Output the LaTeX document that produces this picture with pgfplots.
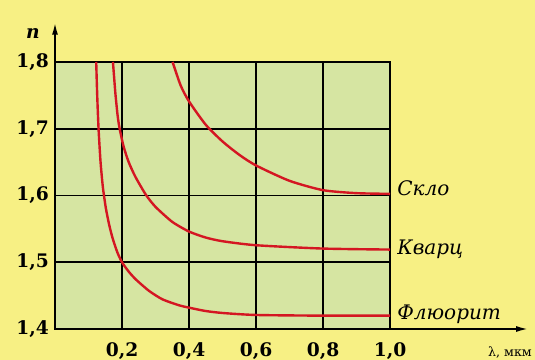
\documentclass[border=0pt]{standalone}
\usepackage{fontspec}
\setmainfont{DejaVu Serif}
\usepackage{pgfplots}
\pgfplotsset{compat=1.18}
\usetikzlibrary{arrows.meta}
\definecolor{bgyellow}{RGB}{247,240,132}
\definecolor{plotgreen}{RGB}{214,229,162}
\definecolor{curvered}{RGB}{212,22,34}
\begin{document}
\begin{tikzpicture}[x=1pt,y=1pt]
\fill[bgyellow] (-41.25,-23.25) rectangle (360,246.75);
\useasboundingbox (-41.25,-23.25) rectangle (360,246.75);
\begin{axis}[
  at={(0,0)}, anchor=south west,
  scale only axis, width=251.25pt, height=200.25pt,
  xmin=0, xmax=1, ymin=1.4, ymax=1.8,
  xtick={0.2,0.4,0.6,0.8,1.0},
  ytick={1.4,1.5,1.6,1.7,1.8},
  /pgf/number format/.cd, use comma, fixed, precision=1, fixed zerofill, assume math mode=true,
  /pgfplots/.cd,
  ticklabel style={font=\bfseries\fontsize{14}{16}\selectfont},
  xticklabel style={yshift=-7pt},
  yticklabel style={xshift=-1pt},
  major tick length=0pt,
  grid=major,
  grid style={black, line width=1.3pt},
  axis line style={black, line width=1.3pt},
  axis background/.style={fill=plotgreen},
  clip=false,
]
\addplot[curvered, line width=1.8pt, smooth, tension=0.4] coordinates {
(0.351,1.800)(0.375,1.765)(0.400,1.741)(0.450,1.706)(0.500,1.681)(0.550,1.661)(0.600,1.645)(0.700,1.622)(0.800,1.608)(0.900,1.6035)(1.000,1.6025)
};
\addplot[curvered, line width=1.8pt, smooth, tension=0.4] coordinates {
(0.173,1.800)(0.180,1.7545)(0.187,1.7195)(0.193,1.700)(0.205,1.673)(0.220,1.650)(0.240,1.628)(0.2714,1.601)(0.300,1.583)(0.350,1.5605)(0.400,1.546)(0.450,1.537)(0.500,1.5315)(0.600,1.5255)(0.800,1.5205)(1.000,1.519)
};
\addplot[curvered, line width=1.8pt, smooth, tension=0.4] coordinates {
(0.123,1.800)(0.126,1.750)(0.130,1.700)(0.136,1.650)(0.143,1.612)(0.152,1.5805)(0.162,1.5555)(0.172,1.536)(0.186,1.515)(0.200,1.500)(0.220,1.486)(0.2416,1.4741)(0.281,1.457)(0.321,1.4444)(0.371,1.4354)(0.400,1.432)(0.449,1.427)(0.500,1.424)(0.600,1.421)(0.800,1.420)(1.000,1.420)
};
\draw[black, line width=1.3pt, -{Latex[length=9pt,width=4.5pt]}] (axis cs:0,1.4) -- (axis cs:0,1.859);
\draw[black, line width=1.3pt, -{Latex[length=9pt,width=4.5pt]}] (axis cs:0,1.4) -- (axis cs:1.412,1.4);
\node[anchor=west, inner sep=0pt, font=\itshape\fontsize{15}{17}\selectfont] at (axis cs:1.021,1.6105) {Скло};
\node[anchor=west, inner sep=0pt, font=\itshape\fontsize{15}{17}\selectfont] at (axis cs:1.021,1.520) {Кварц};
\node[anchor=west, inner sep=0pt, font=\itshape\fontsize{15}{17}\selectfont] at (axis cs:1.021,1.4226) {Флюорит};
\node[inner sep=0pt, font=\bfseries\itshape\fontsize{14}{16}\selectfont] at (axis cs:-0.066,1.843) {n};
\node[inner sep=0pt, font=\fontsize{9.5}{11}\selectfont] at (axis cs:1.358,1.365) {λ, мкм};
\end{axis}
\end{tikzpicture}
\end{document}
